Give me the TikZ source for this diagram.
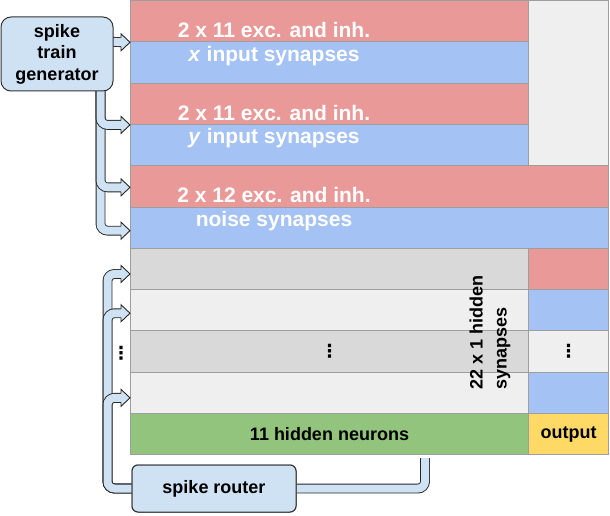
\documentclass[tikz,border=0pt]{standalone}
\usepackage{fontspec}
\setmainfont{Liberation Sans}
\newfontfamily\dotsfont{DejaVu Sans}
\usetikzlibrary{calc}

\definecolor{excred}{HTML}{EA9999}
\definecolor{inhblue}{HTML}{A4C2F4}
\definecolor{darkrow}{HTML}{D9D9D9}
\definecolor{lightrow}{HTML}{EFEFEF}
\definecolor{neurgreen}{HTML}{93C47D}
\definecolor{outyellow}{HTML}{FFD966}
\definecolor{boxblue}{HTML}{CFE2F3}
\definecolor{gridgray}{HTML}{9E9E9E}

% hollow head of a fat arrow, tip at #1, pointing right
\newcommand{\flexhead}[1]{%
  \begin{scope}[shift={#1}]
    \fill[boxblue] (0,0) -- (-9,-8.5) -- (-9,8.5) -- cycle;
    \draw[flexedge] (-9,-4.45) -- (-9,-8.5) -- (0,0) -- (-9,8.5) -- (-9,4.45);
  \end{scope}}
\newcommand{\vdotsign}{{\dotsfont\bfseries\fontsize{18}{18}\selectfont ⋮}}

\begin{document}
\begin{tikzpicture}[x=1pt, y=-1pt,
	cell/.style={draw=gridgray, line width=1pt, anchor=north west, inner sep=0pt,
		font=\fontsize{18}{22}\selectfont\bfseries},
	leftcell/.style={cell, minimum width=398pt, minimum height=41.3pt},
	rightcell/.style={cell, minimum width=80pt, minimum height=41.3pt},
	widecell/.style={cell, minimum width=478pt, minimum height=41.3pt},
	whitetext/.style={text=white, align=center, inner sep=0pt,
		font=\fontsize{21}{23.3}\selectfont\bfseries},
	blacktext/.style={align=left, inner sep=0pt, font=\fontsize{18}{24}\selectfont\bfseries},
	procbox/.style={draw=black!80, fill=boxblue, line width=1pt, align=center,
		inner sep=0pt, font=\fontsize{18}{21.5}\selectfont\bfseries},
	flexshaft/.style={draw=black!85, double=boxblue, double distance=8pt,
		line width=0.9pt, rounded corners=7pt},
	flexedge/.style={draw=black!85, line width=0.9pt, line join=miter}]
	\useasboundingbox (0,0) rectangle (610,516);

	% input and noise synapse rows
	\node[leftcell, fill=excred]     (xexc)     at (130,0) {};
	\node[leftcell, fill=inhblue]    (xinp)     at (130,41.3) {};
	\node[leftcell, fill=excred]     (yexc)     at (130,82.6) {};
	\node[leftcell, fill=inhblue]    (yinp)     at (130,123.9) {};
	\node[cell, fill=lightrow, minimum width=80pt, minimum height=165.2pt]
		(topright) at (528,0) {};
	\node[widecell, fill=excred]     (nexc)     at (130,165.2) {};
	\node[widecell, fill=inhblue]    (ninp)     at (130,206.5) {};

	% hidden synapse rows
	\node[leftcell, fill=darkrow]    (hid1)     at (130,247.8) {};
	\node[leftcell, fill=lightrow]   (hid2)     at (130,289.1) {};
	\node[leftcell, fill=darkrow]    (hid3)     at (130,330.4) {\vdotsign};
	\node[leftcell, fill=lightrow]   (hid4)     at (130,371.7) {};
	\node[rightcell, fill=excred]    (out1)     at (528,247.8) {};
	\node[rightcell, fill=inhblue]   (out2)     at (528,289.1) {};
	\node[rightcell, fill=lightrow]  (out3)     at (528,330.4) {\vdotsign};
	\node[rightcell, fill=inhblue]   (out4)     at (528,371.7) {};
	\node[leftcell, fill=neurgreen]  (neurons)  at (130,413) {11 hidden neurons};
	\node[rightcell, fill=outyellow] (output)   at (528,413) {output};

	\node[whitetext] (xtext) at (274,44)
		{2 x 11 exc. and inh.\\\textit{x} input synapses};
	\node[whitetext] (ytext) at (274,126.5)
		{2 x 11 exc. and inh.\\\textit{y} input synapses};
	\node[whitetext] (ntext) at (274,209)
		{2 x 12 exc. and inh.\\noise synapses};
	\node[blacktext, rotate=90, anchor=west] (hidtext) at (490,390)
		{22 x 1 hidden\\synapses};
	\node[inner sep=0pt] (gapdots) at (121,353) {\vdotsign};

	% arrow tips on the grid
	\coordinate (tipx)    at (xexc.south west);
	\coordinate (tipy)    at (yexc.south west);
	\coordinate (tipnexc) at ($(nexc.west)+(0,1)$);
	\coordinate (tipninp) at ($(ninp.west)+(0,3)$);
	\coordinate (tiphid1) at ($(hid1.west)+(0,5)$);
	\coordinate (tiphid2) at ($(hid2.west)+(0,3)$);
	\coordinate (tiphid4) at ($(hid4.west)+(0,5)$);
	\coordinate (gentap)  at (100.5,88);
	\coordinate (neurtap) at ($(neurons.south west)+(295,2.7)$);

	% spike train generator to the input rows
	\draw[flexshaft] (gentap) |- ($(tipninp)+(-8,0)$);
	\draw[flexshaft] (gentap) |- ($(tipnexc)+(-8,0)$);
	\draw[flexshaft] (gentap) |- ($(tipy)+(-8,0)$);
	\draw[flexshaft] (105,41.3) -- ($(tipx)+(-8,0)$);

	% spike router back to the hidden rows
	\node[procbox, minimum width=164pt, minimum height=47pt, rounded corners=6pt]
		(router) at (214,488.5) {spike router};
	\draw[flexshaft] (router.west) -| ($(tiphid1)+(-22.5,0)$) -- ($(tiphid1)+(-8,0)$);
	\draw[flexshaft] (router.west) -| ($(tiphid2)+(-22.5,0)$) -- ($(tiphid2)+(-8,0)$);
	\draw[flexshaft] (router.west) -| ($(tiphid4)+(-22.5,0)$) -- ($(tiphid4)+(-8,0)$);
	\draw[flexshaft] (router.east) -| (neurtap);

	\foreach \t in {tipx, tipy, tipnexc, tipninp, tiphid1, tiphid2, tiphid4}
		\flexhead{(\t)};

	\node[procbox, minimum width=112pt, minimum height=74pt, rounded corners=10pt]
		(gen) at (57,54) {spike\\train\\generator};
	\node[procbox, minimum width=164pt, minimum height=47pt, rounded corners=6pt]
		at (router) {spike router};
\end{tikzpicture}
\end{document}
